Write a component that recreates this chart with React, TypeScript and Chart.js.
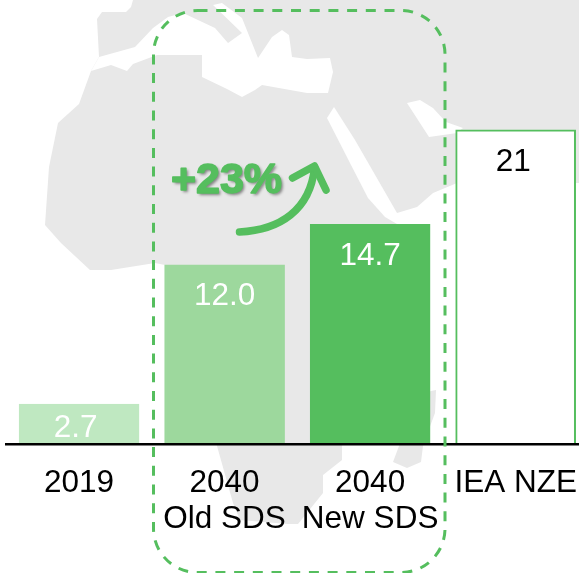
import React, { useEffect, useRef } from "react";
import { Chart, registerables } from "chart.js";

Chart.register(...registerables);

const categories: string[][] = [["2019"], ["2040", "Old SDS"], ["2040", "New SDS"], ["IEA NZE"]];
const values: number[] = [2.7, 12.0, 14.7, 21];
const valueLabels: string[] = ["2.7", "12.0", "14.7", "21"];
const barColors: string[] = ["#BFE8C1", "#9DD89D", "#55BE5E", "#FFFFFF"];
const borderColors: string[] = ["#BFE8C1", "#9DD89D", "#55BE5E", "#55BE5E"];
const labelColors: string[] = ["#FFFFFF", "#FFFFFF", "#FFFFFF", "#000000"];
const changeLabel = "+23%";

const GREEN = "#55BE5E";
const MAP = "#E8E8E8";
const FONT = '"Liberation Sans", Arial, sans-serif';
const LABEL_NUDGE_X = [-3.5, 0, 0, -2.5];

type P = [number, number];
const landOutline: P[] = [[97,19],[102,12],[126,12],[131,7],[133,0],[579,0],[579,183],[457,183],[433,193],[417,207],[397,213],[397,300],[342,446],[342,460],[323,475],[323,493],[298,524],[288,524],[240,520],[233,503],[217,446],[165,265],[155,263],[111,270],[90,270],[61,243],[45,225],[49,167],[58,123],[79,104],[91,71],[99,57]];
const island: P[] = [[431,391],[436,390],[435,413],[425,440],[423,446],[421,462],[407,468],[393,462],[399,446],[410,400]];
const medSea: P[] = [[99,57],[135,47],[153,28],[168,17],[183,13],[215,28],[228,43],[242,33],[213,5],[222,3],[242,18],[258,58],[272,37],[282,30],[289,35],[292,57],[307,59],[330,58],[333,72],[328,93],[307,93],[262,85],[255,90],[242,97],[227,89],[202,77],[202,55],[157,55],[133,64],[127,71],[111,65],[91,71]];
const redSea: P[] = [[334,107],[355,140],[397,213],[397,224],[385,217],[368,198],[350,163],[327,118]];
const gulf: P[] = [[407,103],[420,100],[433,108],[446,122],[463,128],[457,133],[429,137]];

function poly(ctx: CanvasRenderingContext2D, pts: P[], fill: string) {
  ctx.beginPath();
  pts.forEach(([x, y], i) => (i ? ctx.lineTo(x, y) : ctx.moveTo(x, y)));
  ctx.closePath();
  ctx.fillStyle = fill;
  ctx.fill();
}

const backdrop = {
  id: "backdrop",
  beforeDraw(chart: Chart) {
    const ctx = chart.ctx;
    ctx.save();
    ctx.fillStyle = "#FFFFFF";
    ctx.fillRect(0, 0, chart.width, chart.height);
    poly(ctx, landOutline, MAP);
    poly(ctx, island, MAP);
    poly(ctx, medSea, "#FFFFFF");
    poly(ctx, redSea, "#FFFFFF");
    poly(ctx, gulf, "#FFFFFF");
    ctx.restore();
  },
};

const overlay = {
  id: "overlay",
  afterDraw(chart: Chart) {
    const ctx = chart.ctx;
    const meta = chart.getDatasetMeta(0);
    ctx.save();
    ctx.textAlign = "center";
    ctx.textBaseline = "middle";
    ctx.font = `31.5px ${FONT}`;
    meta.data.forEach((el: any, i: number) => {
      const h = el.base - el.y;
      ctx.fillStyle = labelColors[i];
      ctx.fillText(valueLabels[i], el.x + LABEL_NUDGE_X[i], el.y + Math.min(32, h * 0.6));
    });

    ctx.strokeStyle = GREEN;
    ctx.lineWidth = 3;
    ctx.setLineDash([10, 8.7]);
    ctx.beginPath();
    ctx.roundRect(153.5, 10.5, 291.5, 562, 44);
    ctx.stroke();
    ctx.setLineDash([]);

    ctx.lineWidth = 7.5;
    ctx.lineCap = "round";
    ctx.lineJoin = "round";
    ctx.beginPath();
    ctx.moveTo(239.5, 232);
    ctx.bezierCurveTo(280, 230, 310, 210, 314.5, 168);
    ctx.stroke();
    ctx.beginPath();
    ctx.moveTo(292.5, 178);
    ctx.lineTo(314.5, 166);
    ctx.lineTo(326, 190);
    ctx.stroke();

    ctx.font = `bold 43px ${FONT}`;
    ctx.shadowColor = "rgba(0,0,0,0.45)";
    ctx.shadowBlur = 3;
    ctx.shadowOffsetX = 2;
    ctx.shadowOffsetY = 2;
    ctx.fillStyle = GREEN;
    ctx.fillText(changeLabel, 226.5, 181);
    ctx.shadowColor = "transparent";
    ctx.strokeStyle = GREEN;
    ctx.lineWidth = 1.5;
    ctx.strokeText(changeLabel, 226.5, 181);
    ctx.restore();
  },
};

export default function App() {
  const ref = useRef<HTMLCanvasElement>(null);
  useEffect(() => {
    if (!ref.current) return;
    const chart = new Chart(ref.current, {
      type: "bar",
      data: {
        labels: categories,
        datasets: [{
          data: values,
          backgroundColor: barColors,
          borderColor: borderColors,
          borderWidth: 2,
          barThickness: 120,
        }],
      },
      options: {
        animation: false,
        responsive: false,
        layout: { padding: { left: 6.3, right: 0.7, top: 0, bottom: 14.5 } },
        plugins: { legend: { display: false }, tooltip: { enabled: false } },
        scales: {
          x: {
            grid: { display: false, drawTicks: false },
            border: { color: "#000000", width: 2.5, z: 2 },
            ticks: {
              color: "#000000",
              font: { family: FONT, size: 31.5, lineHeight: 36 / 31.5 },
              padding: 21,
              maxRotation: 0,
              autoSkip: false,
            },
          },
          y: { display: false, min: 0, max: 29.67 },
        },
      },
      plugins: [backdrop, overlay],
    });
    return () => chart.destroy();
  }, []);
  return (
    <div style={{ position: "fixed", left: 0, top: 0, width: 579, height: 573, overflow: "hidden", background: "#fff" }}>
      <canvas ref={ref} width={598} height={573} style={{ display: "block" }} />
    </div>
  );
}
